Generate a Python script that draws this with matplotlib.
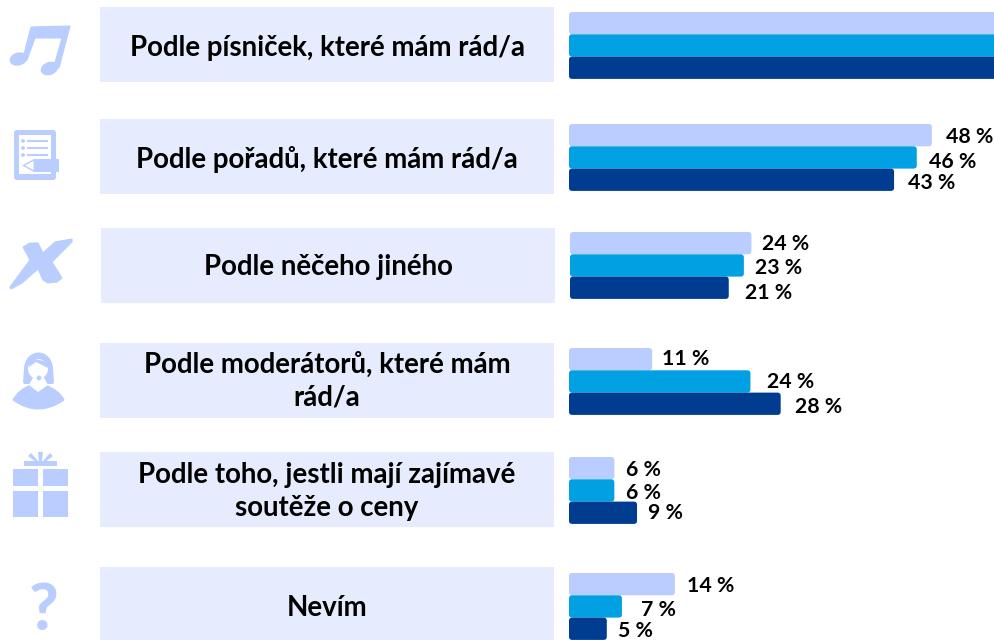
import matplotlib
matplotlib.use("Agg")
import matplotlib.pyplot as plt
from matplotlib.patches import FancyBboxPatch, Rectangle, Ellipse, Polygon, Circle, PathPatch
from matplotlib.path import Path

W, H = 995, 640
categories = ["Podle písniček, které mám rád/a", "Podle pořadů, které mám rád/a", "Podle něčeho jiného",
              "Podle moderátorů, které mám\nrád/a", "Podle toho, jestli mají zajímavé\nsoutěže o ceny", "Nevím"]
series_a = [70, 48, 24, 11, 6, 14]
series_b = [70, 46, 23, 24, 6, 7]
series_c = [70, 43, 21, 28, 9, 5]
show_label = [False, True, True, True, True, True]

PX_PER_PCT = 7.56
LIGHT, MID, DARK = "#B9CEFF", "#00A0E3", "#003C8F"
PANEL = "#E6ECFE"
panel_top = [7, 119, 228, 343, 452, 567]
panel_left = [100, 100, 101, 100, 100, 100]
bar_offset = [0, 0, 1, 0, 0, 0]
bar_top_off = [5, 5, 4, 5, 5, 6]
text_dy = [3.5, 3, 2, 1, 2, 3]
label_dy = [[0, 0, 0], [2, 5, 3], [1, 3, 5], [0, 1, 3], [2, 3, 0], [2, 4, 2]]
label_dx = [[0, 0, 0], [0, -2, 0], [-3, -3, 2], [-4, 3, 0], [-2, -2, -3], [-2, 5, -3]]

plt.rcParams["font.family"] = ["Lato", "DejaVu Sans"]
fig = plt.figure(figsize=(W / 100, H / 100), dpi=100)
bg = fig.add_axes([0, 0, 1, 1])
bg.set_xlim(0, W); bg.set_ylim(H, 0); bg.axis("off")

ax = fig.add_axes([569 / W, 0, (W - 569) / W, 1])
ax.set_xlim(0, (W - 569) / PX_PER_PCT); ax.set_ylim(H, 0); ax.axis("off"); ax.patch.set_alpha(0)

# panels and category labels
for i, (cat, top, left) in enumerate(zip(categories, panel_top, panel_left)):
    bg.add_patch(Rectangle((left, top), 454, 75, fc=PANEL, ec="none"))
    bg.text(left + 227, top + 37.5 + text_dy[i], cat, ha="center", va="center", fontsize=19.9, weight="bold",
            color="#000000", linespacing=1.32)

# bars
BAR_H = 22.3
for i in range(len(categories)):
    y0 = panel_top[i] + bar_top_off[i]
    for j, (vals, col) in enumerate(zip((series_a, series_b, series_c), (LIGHT, MID, DARK))):
        x0 = bar_offset[i] / PX_PER_PCT
        y = y0 + j * BAR_H
        r = 0.42
        ax.add_patch(FancyBboxPatch((x0, y), vals[i], BAR_H,
                                    boxstyle=f"round,pad=0,rounding_size={r}",
                                    mutation_aspect=PX_PER_PCT, fc=col, ec="none", zorder=2 + j))
        if show_label[i]:
            ax.text(x0 + vals[i] + 1.85 + label_dx[i][j] / PX_PER_PCT, y + BAR_H / 2 + label_dy[i][j],
                    f"{vals[i]} %", ha="left", va="center",
                    fontsize=15.3, weight="bold", color="#000000", zorder=6)

# icons
def P(verts, codes=None):
    bg.add_patch(PathPatch(Path(verts, codes), fc=LIGHT, ec=LIGHT, lw=0.8, joinstyle="round"))

C3, L, M = Path.CURVE3, Path.LINETO, Path.MOVETO
# note
P([(31, 27), (70, 26), (59, 68), (54, 66), (62, 38), (35, 38), (27, 60), (23, 58), (31, 27)])
bg.add_patch(Ellipse((18.5, 59), 18, 13, angle=-15, fc=LIGHT, ec="none"))
bg.add_patch(Ellipse((49.5, 68.5), 18, 13, angle=-20, fc=LIGHT, ec="none"))
# document
bg.add_patch(FancyBboxPatch((14, 130), 42, 50, boxstyle="round,pad=0,rounding_size=3", fc=LIGHT, ec="none"))
bg.add_patch(Rectangle((19, 135), 32, 39, fc="white", ec="none"))
for yy in (141, 148, 155):
    bg.add_patch(Circle((23, yy), 1.9, fc=LIGHT, ec="none"))
    bg.add_patch(Rectangle((27, yy - 1.4), 21, 2.8, fc=LIGHT, ec="none"))
bg.add_patch(Rectangle((34, 159), 25, 13, fc=LIGHT, ec="none"))
bg.add_patch(Polygon([(34, 159), (34, 172), (22, 165.5)], fc=LIGHT, ec="none"))
bg.add_patch(Polygon([(33.5, 161), (33.5, 170), (25, 165.5)], fc="white", ec="none"))
# X
P([(23, 247), (30, 243), (38, 243), (43, 253), (55, 242), (72, 239), (72, 242), (52, 262), (62, 278),
   (57, 282), (48, 283), (43, 280), (38, 269), (22, 283), (11, 289), (10, 287), (30, 260), (23, 247)])
# person
P([(13, 400), (18, 390), (31, 385), (38, 392), (45, 385), (59, 390), (64, 400), (38, 418), (13, 400)],
  [M, C3, C3, L, L, C3, C3, C3, C3])
bg.add_patch(Ellipse((38.5, 369), 29, 33, fc=LIGHT, ec="none"))
bg.add_patch(Polygon([(24, 369), (53, 369), (54, 382), (53, 384), (24, 384), (23, 382)], fc=LIGHT, ec="none"))
bg.add_patch(Ellipse((38, 369), 20, 20, fc="white", ec="none"))
bg.add_patch(Polygon([(29, 385), (34, 376), (43, 376), (48, 385), (38, 392)], fc="white", ec="none"))
bg.add_patch(Polygon([(29, 367), (36, 362), (48, 368), (48, 362), (30, 358)], fc=LIGHT, ec="none"))
bg.add_patch(Circle((39, 378), 2.4, fc=LIGHT, ec="none"))
# gift
for (x, y, w, h) in [(13, 469, 25, 17), (43, 469, 25, 17), (13, 491, 25, 26), (43, 491, 25, 26), (24, 461, 33, 5)]:
    bg.add_patch(Rectangle((x, y), w, h, fc=LIGHT, ec="none"))
bg.add_patch(Polygon([(28, 456), (31, 453), (38, 461), (36, 462)], fc=LIGHT, ec="none"))
bg.add_patch(Polygon([(38, 452), (43, 452), (42, 461), (39, 461)], fc=LIGHT, ec="none"))
bg.add_patch(Polygon([(50, 453), (53, 456), (45, 462), (43, 461)], fc=LIGHT, ec="none"))
# question mark
bg.text(44, 612, "?", ha="center", va="center", fontsize=46, weight=900, color=LIGHT)

fig.savefig("out.png", dpi=100)
